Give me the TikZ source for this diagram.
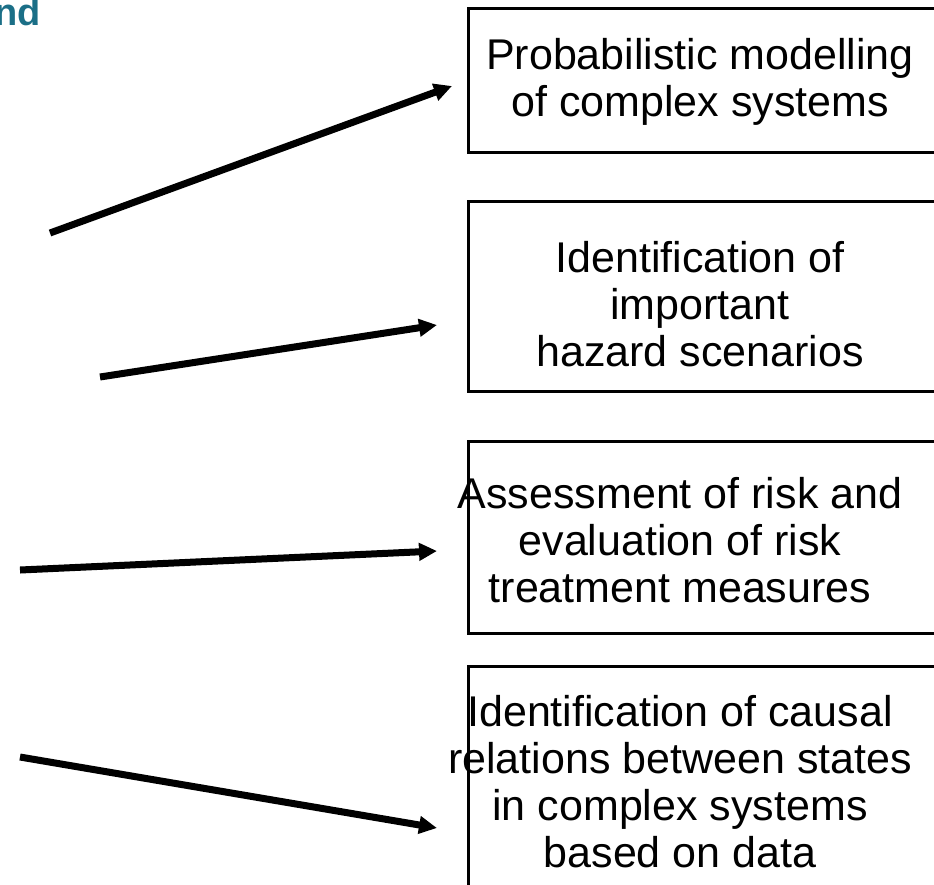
\documentclass[tikz,border=0pt]{standalone}
\usepackage{fontspec}
\setmainfont{Liberation Sans}
\usetikzlibrary{arrows.meta}
\definecolor{headteal}{HTML}{1B6F87}
\tikzset{
  x=1pt, y=-1pt,
  topicbox/.style={draw=black, line width=3pt, rectangle, inner sep=0pt},
  topictext/.style={align=center, inner sep=0pt, font=\fontsize{43}{47}\selectfont},
  link/.style={line width=7pt, -{Triangle[length=18pt,width=17pt]}},
}
\begin{document}
\begin{tikzpicture}
\useasboundingbox (0,0) rectangle (934,884);
\clip (0,0) rectangle (934,884);

% heading fragment
\node[anchor=base east, inner sep=0pt, text=headteal,
      font=\fontsize{38}{40}\selectfont\bfseries] (head) at (41,25) {nd};

% boxes (right side runs past the edge)
\node[topicbox, minimum width=480pt, minimum height=144pt, anchor=north west] (b1) at (467,7) {};
\node[topicbox, minimum width=480pt, minimum height=190pt, anchor=north west] (b2) at (467,200) {};
\node[topicbox, minimum width=480pt, minimum height=192pt, anchor=north west] (b3) at (467,440) {};
\node[topicbox, minimum width=480pt, minimum height=260pt, anchor=north west] (b4) at (467,665) {};

% box texts
\node[topictext] (t1) at (700,82) {Probabilistic modelling\\of complex systems};
\node[topictext] (t2) at (700,304) {Identification of\\important\\hazard scenarios};
\node[topictext] (t3) at (680,540) {Assessment of risk and\\evaluation of risk\\treatment measures};
\node[topictext] (t4) at (680,782) {Identification of causal\\relations between states\\in complex systems\\based on data};

% arrow start points and tips
\coordinate (s1) at (50,233);  \coordinate (e1) at (452,86);
\coordinate (s2) at (100,377); \coordinate (e2) at (437,325);
\coordinate (s3) at (20,570);  \coordinate (e3) at (437,551);
\coordinate (s4) at (20,757);  \coordinate (e4) at (437,828);

\draw[link] (s1) -- (e1);
\draw[link] (s2) -- (e2);
\draw[link] (s3) -- (e3);
\draw[link] (s4) -- (e4);
\end{tikzpicture}
\end{document}
